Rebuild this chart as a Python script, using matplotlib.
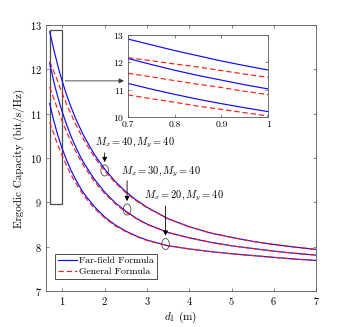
import matplotlib
matplotlib.use('Agg')
import matplotlib.pyplot as plt
from matplotlib.patches import Rectangle, Ellipse

plt.rcParams['font.family'] = 'cmr10'
plt.rcParams['mathtext.fontset'] = 'cm'
plt.rcParams['axes.formatter.use_mathtext'] = True

# distance d1 (m)
d1 = [0.7, 0.75, 0.8, 0.85, 0.9, 0.95, 1.0, 1.1, 1.2, 1.3, 1.4, 1.5, 1.75, 2.0,
      2.25, 2.5, 2.75, 3.0, 3.5, 4.0, 4.5, 5.0, 5.5, 6.0, 6.5, 7.0]

# ergodic capacity (bit/s/Hz)
far40 = [12.85, 12.64, 12.43, 12.24, 12.05, 11.88, 11.72, 11.42, 11.16, 10.92, 10.71, 10.51, 10.09,
         9.75, 9.47, 9.24, 9.05, 8.89, 8.63, 8.45, 8.31, 8.21, 8.12, 8.05, 7.99, 7.94]
gen40 = [12.17, 12.06, 11.94, 11.83, 11.70, 11.57, 11.45, 11.21, 11.00, 10.79, 10.60, 10.42, 10.03,
         9.71, 9.44, 9.22, 9.03, 8.88, 8.63, 8.45, 8.31, 8.21, 8.12, 8.05, 7.99, 7.94]
far30 = [12.14, 11.92, 11.71, 11.52, 11.35, 11.18, 11.03, 10.75, 10.50, 10.28, 10.08, 9.90, 9.53,
         9.23, 8.99, 8.80, 8.64, 8.51, 8.32, 8.20, 8.10, 8.02, 7.96, 7.90, 7.85, 7.81]
gen30 = [11.60, 11.47, 11.33, 11.20, 11.08, 10.94, 10.82, 10.59, 10.37, 10.18, 10.00, 9.83, 9.48,
         9.20, 8.97, 8.78, 8.63, 8.50, 8.32, 8.20, 8.10, 8.02, 7.96, 7.90, 7.85, 7.81]
far20 = [11.23, 11.02, 10.83, 10.65, 10.49, 10.34, 10.20, 9.95, 9.73, 9.54, 9.37, 9.21, 8.91,
         8.67, 8.49, 8.35, 8.24, 8.15, 8.02, 7.95, 7.89, 7.84, 7.80, 7.76, 7.72, 7.69]
gen20 = [10.81, 10.67, 10.54, 10.40, 10.28, 10.16, 10.04, 9.83, 9.63, 9.46, 9.31, 9.16, 8.87,
         8.65, 8.47, 8.34, 8.23, 8.14, 8.02, 7.95, 7.89, 7.84, 7.80, 7.76, 7.72, 7.69]

far_curves = [far40, far30, far20]
gen_curves = [gen40, gen30, gen20]

labels = ['$M_x = 40, M_y = 40$', '$M_x = 30, M_y = 40$', '$M_x = 20, M_y = 40$']
label_pos = [(1.78, 10.34), (2.39, 9.70), (2.94, 9.15)]
mark_pos = [(2.0, 9.72), (2.53, 8.84), (3.44, 8.06)]
arrow_top = [10.18, 9.55, 8.98]

blue = '#0a0aff'
red = '#ff1a1a'


def draw_curves(ax):
    for k in range(3):
        l1, = ax.plot(d1, far_curves[k], color=blue, lw=0.85)
        l2, = ax.plot(d1, gen_curves[k], color=red, lw=0.85, dashes=(4.5, 2.5))
    return l1, l2


def style(ax):
    for s in ax.spines.values():
        s.set_color('0.35')
        s.set_linewidth(0.6)
    ax.tick_params(direction='in', top=True, right=True, length=2.5, width=0.5,
                   color='0.35', labelsize=7.5, pad=2.5)


fig = plt.figure(figsize=(3.5, 3.27), dpi=100)
ax = fig.add_axes([0.130, 0.110, 0.773, 0.8135])
lf, lg = draw_curves(ax)
ax.set_xlim(0.6, 7)
ax.set_ylim(7, 13)
ax.set_xticks([1, 2, 3, 4, 5, 6, 7])
ax.set_yticks([7, 8, 9, 10, 11, 12, 13])
style(ax)
ax.set_xlabel('$d_1$ (m)', fontsize=8, labelpad=2)
ax.set_ylabel('Ergodic Capacity (bit/s/Hz)', fontsize=8, labelpad=4)

# zoom box
ax.add_patch(Rectangle((0.7, 8.96), 0.3, 12.89 - 8.96, fill=False, ec='0.3', lw=0.9))
ax.annotate('', xy=(2.52, 11.74), xytext=(1.0, 11.74),
            arrowprops=dict(arrowstyle='-|>', color='0.2', lw=0.6, mutation_scale=7))

for k in range(3):
    ax.text(label_pos[k][0], label_pos[k][1], labels[k], fontsize=7.5, ha='left', va='center')
    x, y = mark_pos[k]
    ax.add_patch(Ellipse((x, y), 0.18, 0.25, fill=False, ec='0.3', lw=0.6))
    ax.annotate('', xy=(x, y + 0.125), xytext=(x, arrow_top[k]),
                arrowprops=dict(arrowstyle='-|>', color='k', lw=0.6, mutation_scale=7))

leg = ax.legend([lf, lg], ['Far-field Formula', 'General Formula'], loc='lower left',
                bbox_to_anchor=(0.035, 0.045), borderaxespad=0, fontsize=7,
                handlelength=2.0, handletextpad=0.2, borderpad=0.3, labelspacing=0.2,
                fancybox=False, framealpha=1)
leg.get_frame().set_edgecolor('0.2')
leg.get_frame().set_linewidth(0.6)

# inset
axi = fig.add_axes([0.366, 0.642, 0.400, 0.251])
draw_curves(axi)
axi.set_xlim(0.7, 1)
axi.set_ylim(10, 13)
axi.set_xticks([0.7, 0.8, 0.9, 1.0])
axi.set_xticklabels(['0.7', '0.8', '0.9', '1'])
axi.set_yticks([10, 11, 12, 13])
style(axi)
axi.tick_params(labelsize=7)

fig.savefig('out.png', dpi=100)
